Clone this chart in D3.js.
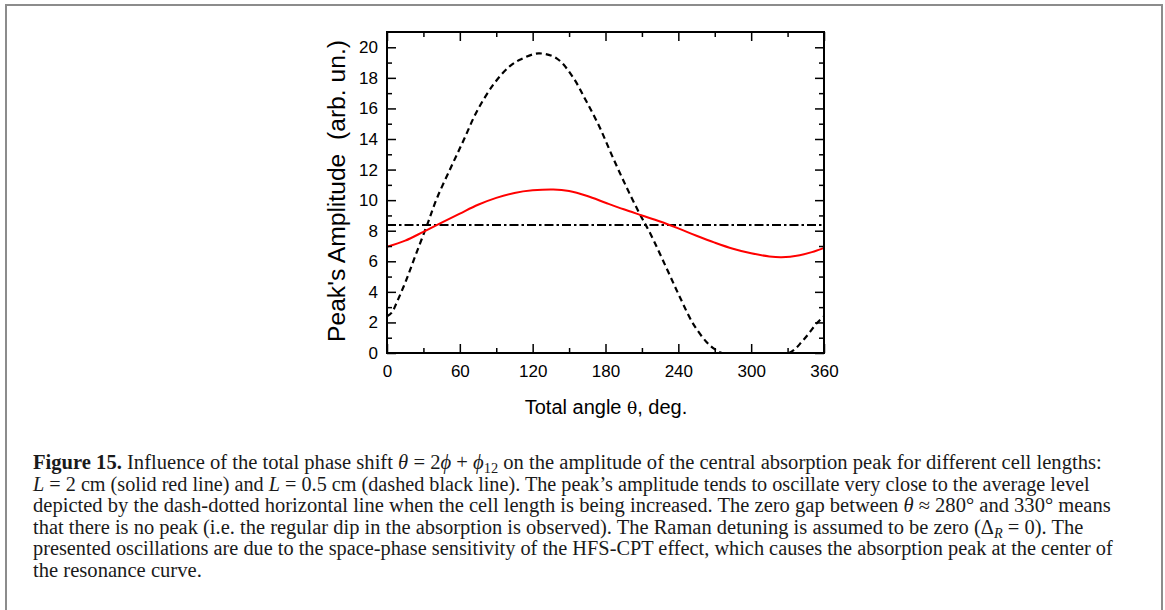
<!DOCTYPE html>
<html><head><meta charset="utf-8">
<script src="https://cdn.jsdelivr.net/npm/d3@7"></script>
<style>html,body{margin:0;padding:0;background:#fff;}svg{display:block;}</style>
</head><body>
<svg id="c" width="1165" height="610"></svg>
<script>
// ---- data ----
const thetaRed = [0, 15, 30, 45, 60, 75, 90, 105, 120, 137, 150, 165, 180, 195, 210, 225, 240, 255, 270, 285, 300, 315, 325, 340, 350, 360];
const ampRed   = [6.95, 7.35, 7.93, 8.53, 9.12, 9.7, 10.15, 10.47, 10.64, 10.7, 10.6, 10.27, 9.83, 9.4, 9.0, 8.6, 8.15, 7.67, 7.22, 6.82, 6.52, 6.32, 6.27, 6.4, 6.6, 6.88];
const thetaDash = [0, 4, 8, 16, 24, 33, 41, 53, 63, 74, 88, 101, 110, 125, 140, 153, 164, 175, 186, 197, 208, 217, 230, 241, 252, 263, 270, 276, 300, 331, 343, 354, 360];
const ampDash   = [2.4, 2.65, 3.3, 4.8, 6.5, 8.37, 10.1, 12.2, 13.9, 15.8, 17.6, 18.75, 19.2, 19.6, 19.26, 18.06, 16.5, 14.8, 12.8, 10.9, 9.13, 7.8, 5.6, 3.7, 1.94, 0.74, 0.25, 0, 0, 0, 0.85, 1.94, 2.4];
const avgLevel = 8.37;
const xTicks = [0, 60, 120, 180, 240, 300, 360];
const xMinor = [30, 90, 150, 210, 270, 330];
const yTicks = [0, 2, 4, 6, 8, 10, 12, 14, 16, 18, 20];
const yMinor = [1, 3, 5, 7, 9, 11, 13, 15, 17, 19];
const xLabel = "Total angle ";
const yLabel = "Peak's Amplitude  (arb. un.)";
const caption = [
  [["Figure 15.", "b"], [" Influence of the total phase shift ", ""], ["θ", "i"], [" = 2", ""], ["ϕ", "i"], [" + ", ""], ["ϕ", "i"], ["12", "sub"], [" on the amplitude of the central absorption peak for different cell lengths:", ""]],
  [["L", "i"], [" = 2 cm (solid red line) and ", ""], ["L", "i"], [" = 0.5 cm (dashed black line). The peak’s amplitude tends to oscillate very close to the average level", ""]],
  [["depicted by the dash-dotted horizontal line when the cell length is being increased. The zero gap between ", ""], ["θ", "i"], [" ≈ 280° and 330° means", ""]],
  [["that there is no peak (i.e. the regular dip in the absorption is observed). The Raman detuning is assumed to be zero (Δ", ""], ["R", "isub"], [" = 0). The", ""]],
  [["presented oscillations are due to the space-phase sensitivity of the HFS-CPT effect, which causes the absorption peak at the center of", ""]],
  [["the resonance curve.", ""]]
];
const captionWidths = [1069, 1057, 1079, 1051, 1080, 169];

// ---- layout ----
const svg = d3.select("#c");
const L = 387, R = 824, T = 32, B = 353;
const x = d3.scaleLinear().domain([0, 360]).range([L, R]);
const y = d3.scaleLinear().domain([0, 21]).range([B, T]);

// outer frame
svg.append("rect").attr("x", 6).attr("y", 5).attr("width", 1156).attr("height", 620)
  .attr("fill", "none").attr("stroke", "#8c8c8c").attr("stroke-width", 2);

svg.append("clipPath").attr("id", "clip").append("rect")
  .attr("x", L).attr("y", T).attr("width", R - L).attr("height", B - T + 1);

// curves
const line = d3.line().x(d => x(d[0])).y(d => y(d[1])).curve(d3.curveCatmullRom.alpha(0.5));
const g = svg.append("g").attr("clip-path", "url(#clip)");
g.append("path").datum([[0, avgLevel], [360, avgLevel]]).attr("d", d3.line().x(d => x(d[0])).y(d => y(d[1])))
  .attr("fill", "none").attr("stroke", "#000").attr("stroke-width", 2).attr("stroke-dasharray", "9,3,2.5,3");
g.append("path").datum(thetaDash.map((t, i) => [t, ampDash[i]])).attr("d", line)
  .attr("fill", "none").attr("stroke", "#000").attr("stroke-width", 2.2).attr("stroke-dasharray", "6,4");
g.append("path").datum(thetaRed.map((t, i) => [t, ampRed[i]])).attr("d", line)
  .attr("fill", "none").attr("stroke", "#ff0000").attr("stroke-width", 2);

// axes (inward ticks)
function axisStyle(sel) {
  sel.select(".domain").remove();
  sel.selectAll("line").attr("stroke", "#000").attr("stroke-width", 1.5);
}
const fontTick = "17px 'Liberation Sans', Arial, sans-serif";
svg.append("g").attr("transform", `translate(0,${B})`)
  .call(d3.axisBottom(x).tickValues(xTicks).tickSizeInner(-9).tickSizeOuter(0).tickPadding(12))
  .call(axisStyle)
  .call(s => s.selectAll("text").style("font", fontTick).attr("fill", "#000"));
svg.append("g").attr("transform", `translate(0,${B})`)
  .call(d3.axisBottom(x).tickValues(xMinor).tickSizeInner(-5).tickSizeOuter(0).tickFormat(""))
  .call(axisStyle);
svg.append("g").attr("transform", `translate(0,${T})`)
  .call(d3.axisTop(x).tickValues(xTicks).tickSizeInner(-9).tickSizeOuter(0).tickFormat(""))
  .call(axisStyle);
svg.append("g").attr("transform", `translate(0,${T})`)
  .call(d3.axisTop(x).tickValues(xMinor).tickSizeInner(-5).tickSizeOuter(0).tickFormat(""))
  .call(axisStyle);
svg.append("g").attr("transform", `translate(${L},0)`)
  .call(d3.axisLeft(y).tickValues(yTicks).tickSizeInner(-9).tickSizeOuter(0).tickPadding(9))
  .call(axisStyle)
  .call(s => s.selectAll("text").style("font", fontTick).attr("fill", "#000"));
svg.append("g").attr("transform", `translate(${L},0)`)
  .call(d3.axisLeft(y).tickValues(yMinor).tickSizeInner(-5).tickSizeOuter(0).tickFormat(""))
  .call(axisStyle);
svg.append("g").attr("transform", `translate(${R},0)`)
  .call(d3.axisRight(y).tickValues(yTicks).tickSizeInner(-9).tickSizeOuter(0).tickFormat(""))
  .call(axisStyle);
svg.append("g").attr("transform", `translate(${R},0)`)
  .call(d3.axisRight(y).tickValues(yMinor).tickSizeInner(-5).tickSizeOuter(0).tickFormat(""))
  .call(axisStyle);

// frame of plot
svg.append("rect").attr("x", L).attr("y", T).attr("width", R - L).attr("height", B - T)
  .attr("fill", "none").attr("stroke", "#000").attr("stroke-width", 2);

// axis titles
const xt = svg.append("text").attr("x", 606).attr("y", 414).attr("text-anchor", "middle")
  .style("font", "20px 'Liberation Sans', Arial, sans-serif").attr("fill", "#000");
xt.append("tspan").text(xLabel);
xt.append("tspan").style("font-family", "'DejaVu Serif', serif").style("font-size", "17px").text("θ");
xt.append("tspan").text(", deg.");

svg.append("text").attr("transform", "translate(345,191) rotate(-90)").attr("text-anchor", "middle")
  .style("font", "23px 'Liberation Sans', Arial, sans-serif").attr("fill", "#000")
  .attr("textLength", 302).attr("lengthAdjust", "spacingAndGlyphs")
  .style("white-space", "pre").text(yLabel);

// caption
caption.forEach((segs, i) => {
  const grp = svg.append("g");
  const t = grp.append("text").attr("x", 0).attr("y", 0)
    .style("font-family", "'Liberation Serif', 'Times New Roman', serif").style("font-size", "20px").attr("fill", "#1a1a1a");
  let prevSub = false;
  segs.forEach(([txt, st]) => {
    const ts = t.append("tspan").text(txt);
    if (prevSub) ts.attr("dy", -4);
    prevSub = false;
    if (st === "b") ts.style("font-weight", "bold");
    if (st === "i") ts.style("font-style", "italic");
    if (st === "sub" || st === "isub") {
      ts.attr("dy", 4).style("font-size", "14px");
      if (st === "isub") ts.style("font-style", "italic");
      prevSub = true;
    }
  });
  const w = t.node().getComputedTextLength();
  const s = captionWidths[i] / w;
  grp.attr("transform", `translate(33,${469.3 + i * 21.5}) scale(${s},1)`);
});
</script>
</body></html>
